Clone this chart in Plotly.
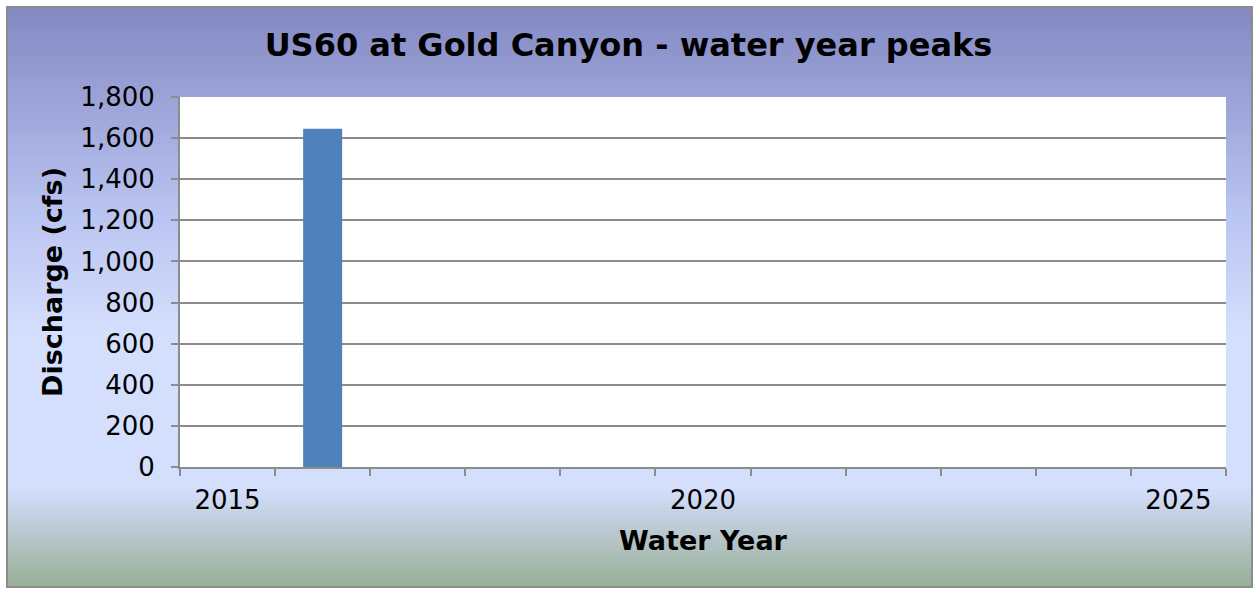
import plotly.graph_objects as go

years = [2015, 2016, 2017, 2018, 2019, 2020, 2021, 2022, 2023, 2024, 2025]
peaks = [None, 1645, None, None, None, None, None, None, None, None, None]
year_labels = [2015, 2020, 2025]

W, H = 1257, 592
L, R, T, B = 180, 1226, 97, 467


def px_x(p):
    return (p - L) / (R - L)


def px_y(p):
    return (B - p) / (B - T)


# background gradient stops (fraction from top, rgb)
stops = [(0.0, (131, 136, 194)), (0.35, (185, 195, 240)), (0.56, (212, 222, 253)),
         (0.83, (212, 222, 253)), (1.0, (152, 174, 150))]


def color_at(f):
    for (f0, c0), (f1, c1) in zip(stops[:-1], stops[1:]):
        if f0 <= f <= f1:
            t = (f - f0) / (f1 - f0)
            return "rgb(%d,%d,%d)" % tuple(round(a + (b - a) * t) for a, b in zip(c0, c1))
    return "rgb(%d,%d,%d)" % stops[-1][1]


top, bottom = 7, 587
n = 145
shapes = []
for i in range(n):
    y0 = top + (bottom - top) * i / n
    y1 = top + (bottom - top) * (i + 1) / n + 0.6
    shapes.append(dict(type="rect", xref="paper", yref="paper", layer="below",
                       x0=px_x(7), x1=px_x(1252), y0=px_y(y1), y1=px_y(y0),
                       fillcolor=color_at((i + 0.5) / n), line=dict(width=0)))
shapes.append(dict(type="rect", xref="paper", yref="paper", layer="below",
                   x0=px_x(7), x1=px_x(1252), y0=px_y(587), y1=px_y(7),
                   fillcolor="rgba(0,0,0,0)", line=dict(color="#8c8c8c", width=2)))
# white plot area
shapes.append(dict(type="rect", xref="paper", yref="paper", layer="below",
                   x0=0, x1=1, y0=0, y1=1, fillcolor="white", line=dict(width=0)))

fig = go.Figure(go.Bar(x=years, y=peaks, width=0.41, marker=dict(color="#4F81BD", line=dict(width=0))))

fig.update_layout(
    width=W, height=H,
    margin=dict(l=L, r=W - R, t=T, b=H - B),
    paper_bgcolor="white", plot_bgcolor="white",
    font=dict(family="DejaVu Sans", size=26, color="black"),
    title=dict(text="<b>US60 at Gold Canyon - water year peaks</b>", x=0.5, xanchor="center",
               y=1 - 45 / H, yanchor="middle", font=dict(size=32)),
    shapes=shapes,
    showlegend=False,
)
fig.update_xaxes(
    range=[2014.5, 2025.5], tickvals=year_labels, ticks="", ticklabelstandoff=9,
    showgrid=False, zeroline=False, showline=True, linecolor="#8c8c8c", linewidth=2,
    minor=dict(tick0=2014.5, dtick=1, ticks="outside", ticklen=7, tickcolor="#8c8c8c",
               tickwidth=2, showgrid=False),
    title=dict(text="<b>Water Year</b>", standoff=17, font=dict(size=27)),
)
fig.update_yaxes(
    range=[0, 1800], dtick=200, tickformat=",", ticks="outside", ticklen=7,
    tickcolor="#8c8c8c", tickwidth=2, showgrid=True, gridcolor="#8c8c8c", gridwidth=2,
    zeroline=False, showline=True, linecolor="#8c8c8c", linewidth=2, ticklabelstandoff=11,
    title=dict(text="<b>Discharge (cfs)</b>", standoff=10, font=dict(size=27)),
)

fig.write_html("out.html", config={"displayModeBar": False},
               post_script="document.body.style.margin='0';")
